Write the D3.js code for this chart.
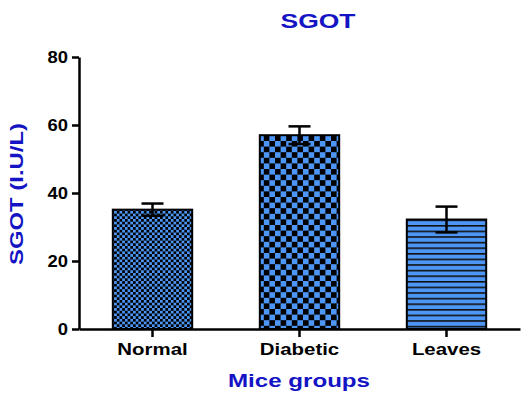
<!DOCTYPE html>
<html>
<head>
<meta charset="utf-8">
<script src="https://cdn.jsdelivr.net/npm/d3@7"></script>
<style>
  body { margin: 0; background: #fff; }
  text { font-family: "Liberation Sans", Arial, sans-serif; font-weight: bold; }
</style>
</head>
<body>
<div id="chart"></div>
<script>
let groups = ["Normal", "Diabetic", "Leaves"];
let means = [35.1, 57.0, 32.2];
let errors = [1.8, 2.6, 3.8];
let yTicks = [0, 20, 40, 60, 80];

let blue = "#4d96f5";
let titleBlue = "#1414c4";

let margin = {top: 57, right: 2, bottom: 67, left: 79},
    width = 522 - margin.left - margin.right,
    height = 396 - margin.top - margin.bottom;

let svg = d3.select("#chart")
    .append("svg")
        .attr("width", 522)
        .attr("height", 396);

// fill patterns: small checks, big checks, stripes
let defs = svg.append("defs");

function checker(id, c) {
    let p = defs.append("pattern")
        .attr("id", id).attr("patternUnits", "userSpaceOnUse")
        .attr("width", 2 * c).attr("height", 2 * c);
    p.append("rect").attr("width", 2 * c).attr("height", 2 * c).attr("fill", "#000");
    p.append("rect").attr("width", c).attr("height", c).attr("fill", blue);
    p.append("rect").attr("x", c).attr("y", c).attr("width", c).attr("height", c).attr("fill", blue);
}
checker("fine", 2.7);
checker("coarse", 5.6);

let stripes = defs.append("pattern")
    .attr("id", "stripes").attr("patternUnits", "userSpaceOnUse")
    .attr("width", 8).attr("height", 5.6);
stripes.append("rect").attr("width", 8).attr("height", 5.6).attr("fill", blue);
stripes.append("rect").attr("width", 8).attr("height", 1.6).attr("fill", "#111");

let fills = ["url(#fine)", "url(#coarse)", "url(#stripes)"];

let g = svg.append("g")
    .attr("transform", `translate(${margin.left},${margin.top})`);

let x = d3.scaleBand()
    .domain(groups)
    .range([0, width])
    .paddingInner(0.46)
    .paddingOuter(0.23);

let y = d3.scaleLinear()
    .domain([0, 80])
    .range([height, 0]);

g.selectAll(".bar")
    .data(groups)
    .join("rect")
    .attr("class", "bar")
    .attr("x", d => x(d))
    .attr("y", (d, i) => y(means[i]))
    .attr("width", x.bandwidth())
    .attr("height", (d, i) => y(0) - y(means[i]))
    .attr("fill", (d, i) => fills[i])
    .attr("stroke", "#000")
    .attr("stroke-width", 2);

// error bars
let cx = d => x(d) + x.bandwidth() / 2;
let err = g.selectAll(".err")
    .data(groups)
    .join("g")
    .attr("class", "err")
    .attr("stroke", "#000")
    .attr("stroke-width", 2.5);
err.append("line")
    .attr("x1", cx).attr("x2", cx)
    .attr("y1", (d, i) => y(means[i] + errors[i]))
    .attr("y2", (d, i) => y(means[i] - errors[i]));
err.append("line")
    .attr("x1", d => cx(d) - 11).attr("x2", d => cx(d) + 11)
    .attr("y1", (d, i) => y(means[i] + errors[i]))
    .attr("y2", (d, i) => y(means[i] + errors[i]));
err.append("line")
    .attr("x1", d => cx(d) - 11).attr("x2", d => cx(d) + 11)
    .attr("y1", (d, i) => y(means[i] - errors[i]))
    .attr("y2", (d, i) => y(means[i] - errors[i]));

// axes
let xAxis = g.append("g")
    .attr("transform", `translate(0,${height})`)
    .call(d3.axisBottom(x).tickSize(8).tickPadding(6).tickSizeOuter(0));

let yAxis = g.append("g")
    .call(d3.axisLeft(y).tickValues(yTicks).tickSize(7).tickPadding(4).tickSizeOuter(0));

[xAxis, yAxis].forEach(a => {
    a.select(".domain").attr("stroke", "#000").attr("stroke-width", 2.5);
    a.selectAll(".tick line").attr("stroke", "#000").attr("stroke-width", 2.5);
    a.selectAll(".tick text")
        .attr("fill", "#000")
        .style("font-family", "'Liberation Sans', Arial, sans-serif")
        .style("font-weight", "bold");
});
xAxis.selectAll(".tick text").style("font-size", "17px")
    .attr("textLength", function() { return this.getComputedTextLength() * 1.2; })
    .attr("lengthAdjust", "spacingAndGlyphs");
yAxis.selectAll(".tick text").style("font-size", "16px")
    .attr("textLength", function() { return this.getComputedTextLength() * 1.15; })
    .attr("lengthAdjust", "spacingAndGlyphs");

// titles
svg.append("text")
    .attr("x", 318).attr("y", 28)
    .attr("text-anchor", "middle")
    .attr("fill", titleBlue)
    .style("font-size", "20px")
    .attr("textLength", 75).attr("lengthAdjust", "spacingAndGlyphs")
    .text("SGOT");

svg.append("text")
    .attr("x", 299).attr("y", 387)
    .attr("text-anchor", "middle")
    .attr("fill", titleBlue)
    .style("font-size", "18px")
    .attr("textLength", 142).attr("lengthAdjust", "spacingAndGlyphs")
    .text("Mice groups");

svg.append("text")
    .attr("transform", "translate(23,194) rotate(-90)")
    .attr("text-anchor", "middle")
    .attr("fill", titleBlue)
    .style("font-size", "18px")
    .attr("textLength", 142).attr("lengthAdjust", "spacingAndGlyphs")
    .text("SGOT (I.U/L)");
</script>
</body>
</html>
